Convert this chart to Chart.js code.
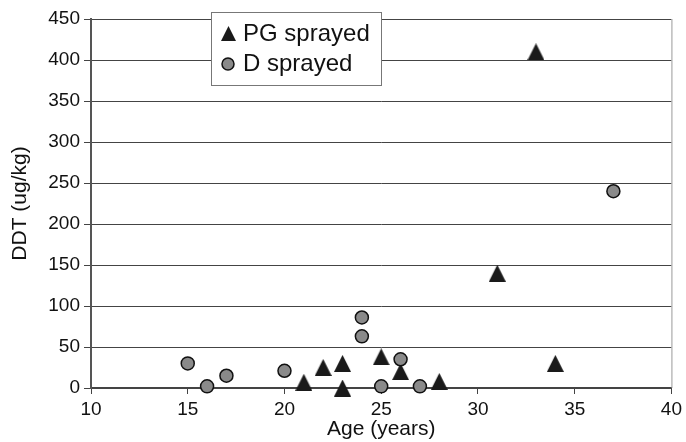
<!DOCTYPE html>
<html lang="en">
<head>
  <meta charset="UTF-8">
  <title>DDT by age</title>
  <script src="https://cdn.jsdelivr.net/npm/chart.js"></script>
  <style>
    body { margin: 0; background: #fff; }
    #grafico { display: block; }
  </style>
</head>
<body>
  <canvas id="grafico" width="686" height="442"></canvas>

  <script>
    // values
    const pgAge = [21, 22, 23, 23, 25, 26, 28, 31, 33, 34];
    const pgDDT = [7, 25, 30, 0, 38, 20, 8, 140, 410, 30];
    const dAge = [15, 16, 17, 20, 24, 24, 25, 26, 27, 37];
    const dDDT = [30, 2, 15, 21, 86, 63, 2, 35, 2, 240];
    const legendLabels = ["PG sprayed", "D sprayed"];

    const fonte = "'Liberation Sans', Arial, sans-serif";

    const pts = (xs, ys) => xs.map((x, i) => ({ x: x, y: ys[i] }));

    // taller triangle than the built-in one, centred on its box
    function makeTriangle(w, h) {
      const c = document.createElement("canvas");
      c.width = w;
      c.height = h;
      const g = c.getContext("2d");
      g.fillStyle = "#1a1a1a";
      g.beginPath();
      g.moveTo(w / 2, 0);
      g.lineTo(w, h);
      g.lineTo(0, h);
      g.closePath();
      g.fill();
      return c;
    }
    const tri = makeTriangle(17, 17);

    // right border + legend box drawn inside the plot
    const extras = {
      id: "extras",
      afterDraw(chart) {
        const ctx = chart.ctx;
        const a = chart.chartArea;
        ctx.save();
        ctx.strokeStyle = "#999";
        ctx.lineWidth = 1;
        ctx.beginPath();
        ctx.moveTo(a.right + 0.5, a.top);
        ctx.lineTo(a.right + 0.5, a.bottom);
        ctx.stroke();

        // legend
        ctx.fillStyle = "#fff";
        ctx.fillRect(211, 12, 170, 73);
        ctx.strokeStyle = "#777";
        ctx.strokeRect(211.5, 12.5, 170, 73);

        ctx.drawImage(makeTriangle(15, 15), 221, 26);
        ctx.fillStyle = "#8a8a8a";
        ctx.strokeStyle = "#111";
        ctx.lineWidth = 1.5;
        ctx.beginPath();
        ctx.arc(228, 64, 6, 0, Math.PI * 2);
        ctx.fill();
        ctx.stroke();

        ctx.fillStyle = "#111";
        ctx.font = "24px " + fonte;
        ctx.textBaseline = "middle";
        ctx.fillText(legendLabels[0], 243, 34);
        ctx.fillText(legendLabels[1], 243, 64);
        ctx.restore();
      }
    };

    new Chart(document.getElementById("grafico"), {
      type: "scatter",
      data: {
        datasets: [
          {
            label: legendLabels[1],
            data: pts(dAge, dDDT),
            pointStyle: "circle",
            pointRadius: 6.5,
            backgroundColor: "#8a8a8a",
            borderColor: "#111",
            borderWidth: 1.5,
            clip: false
          },
          {
            label: legendLabels[0],
            data: pts(pgAge, pgDDT),
            pointStyle: tri,
            pointRadius: 9,
            clip: false
          }
        ]
      },
      options: {
        responsive: false,
        animation: false,
        layout: { padding: { top: 19, right: 13, left: 0, bottom: 0 } },
        plugins: {
          legend: { display: false },
          tooltip: { enabled: false }
        },
        scales: {
          x: {
            type: "linear",
            min: 10,
            max: 40,
            afterFit(scale) { scale.height = 54; },
            ticks: { stepSize: 5, color: "#111", padding: 4, font: { family: fonte, size: 19 } },
            grid: { drawOnChartArea: false, drawTicks: true, tickLength: 6, color: "#444" },
            border: { color: "#444", width: 2 },
            title: { display: true, text: "Age (years)", color: "#111", padding: 0, font: { family: fonte, size: 21 } }
          },
          y: {
            min: 0,
            max: 450,
            afterFit(scale) { scale.width = 91; },
            ticks: { stepSize: 50, color: "#111", padding: 4, font: { family: fonte, size: 19 } },
            grid: { color: "#444", lineWidth: 1, tickLength: 7 },
            border: { color: "#555", width: 2 },
            title: { display: true, text: "DDT (ug/kg)", color: "#111", padding: { top: 8, bottom: 0 }, font: { family: fonte, size: 21 } }
          }
        }
      },
      plugins: [extras]
    });
  </script>
</body>
</html>
